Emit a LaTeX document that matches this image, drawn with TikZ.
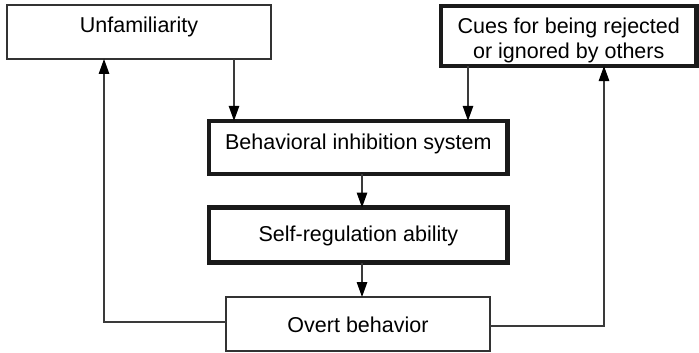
\documentclass[tikz,border=0pt]{standalone}
\usepackage{fontspec}
\setmainfont{Liberation Sans}
\usetikzlibrary{arrows.meta}
\newcommand{\mybt}[2]{\smash{\raisebox{#1}{#2}}}
\definecolor{thinc}{HTML}{333333}
\definecolor{thickc}{HTML}{1A1A1A}
\definecolor{linec}{HTML}{3A3A3A}
\begin{document}
\begin{tikzpicture}[x=1pt,y=-1pt,
  every node/.style={font=\fontsize{21.5}{25}\selectfont, inner sep=0pt, outer sep=0pt},
  thinbox/.style={draw=thinc, line width=1.3pt, fill=white},
  thickbox/.style={draw=thickc, line width=4.3pt, fill=white},
  conn/.style={draw=linec, line width=1.3pt},
  arr/.style={conn, -{Triangle[length=15pt,width=10.5pt,color=black]}}]
\useasboundingbox (0,0) rectangle (699,353);
% boxes
\node[thinbox, minimum width=264pt, minimum height=54pt] (un) at (139,32)
  {\mybt{-1pt}{Unfamiliarity}};
\node[thickbox, minimum width=255.5pt, minimum height=59.7pt] (cu) at (568.75,36.2)
  {\mybt{3pt}{\begin{tabular}[t]{@{}c@{}}Cues for being rejected\\or ignored by others\end{tabular}}};
\node[thickbox, minimum width=298.3pt, minimum height=53.4pt] (bis) at (358.35,147.5)
  {\mybt{-1.5pt}{Behavioral inhibition system}};
\node[thickbox, minimum width=298.3pt, minimum height=55pt] (sra) at (358.35,235)
  {\mybt{-6.7pt}{Self-regulation ability}};
\node[thinbox, minimum width=264pt, minimum height=54pt] (ov) at (358,324)
  {\mybt{-8.5pt}{Overt behavior}};
% helper coordinates
\coordinate (ux) at (234,0);
\coordinate (cx) at (468,0);
\coordinate (mx) at (362,0);
\coordinate (lx) at (104,0);
\coordinate (rx) at (604,0);
% connectors
\draw[arr] (un.south -| ux) -- (bis.north -| ux);
\draw[arr] (cu.south -| cx) -- (bis.north -| cx);
\draw[arr] (bis.south -| mx) -- (sra.north -| mx);
\draw[arr] (sra.south -| mx) -- (ov.north -| mx);
\draw[arr] ([yshift=2pt]ov.west) -| (un.south -| lx);
\draw[arr] ([yshift=-2pt]ov.east) -| (cu.south -| rx);
\end{tikzpicture}
\end{document}
